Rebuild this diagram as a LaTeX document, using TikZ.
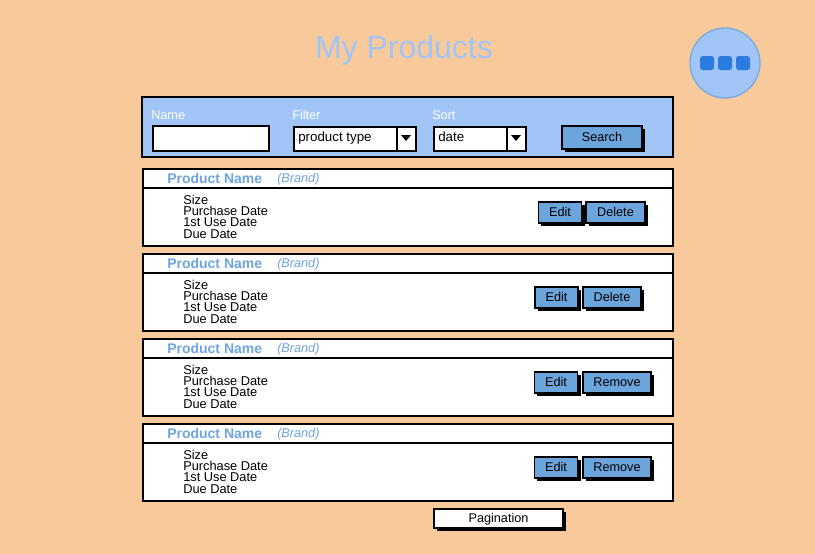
\documentclass[tikz,border=0pt]{standalone}
\usepackage{fontspec}
\setmainfont{Liberation Sans}
\usetikzlibrary{shadows}
\definecolor{paper}{HTML}{F8CA9B}
\definecolor{panel}{HTML}{A0C5F6}
\definecolor{btn}{HTML}{6CA4DC}
\definecolor{head}{HTML}{6FA5DE}
\definecolor{dots}{HTML}{2C7BE0}
\definecolor{ring}{HTML}{7AABDD}
\begin{document}
\begin{tikzpicture}[x=0.75pt,y=-0.75pt,
	field/.style={draw=black,line width=1.3pt,fill=white,inner sep=0},
	button/.style={draw=black,line width=1.2pt,fill=btn,inner sep=0,
	text height=7pt,text depth=1.6pt,
	drop shadow={opacity=1,fill=black,shadow xshift=2.2pt,shadow yshift=-2.2pt},
	font=\fontsize{9.5}{11}\selectfont},
	caption/.style={anchor=base west,inner sep=0,text=white,font=\fontsize{9.5}{11}\selectfont},
	entry/.style={anchor=base west,inner sep=0,font=\fontsize{10}{12}\selectfont}]
\fill[paper] (0,0) rectangle (815,554);
\node[text=panel,font=\fontsize{24}{28}\selectfont] (title) at (404,50) {My Products};
\node[circle,draw=ring,line width=1pt,fill=panel,minimum size=52.5pt] (menu) at (725,63) {};
\foreach \d in {707,725,743}
	\fill[dots,rounded corners=2pt] (\d-7,56) rectangle (\d+7,70);
% search bar
\draw[line width=1.8pt,fill=panel] (142,97) rectangle (673,157);
\node[caption] (namelbl) at (151,119) {Name};
\node[caption] (filterlbl) at (292,119) {Filter};
\node[caption] (sortlbl) at (432,119) {Sort};
\node[field,anchor=north west,minimum width=87pt,minimum height=18.75pt] (namefield) at (152,125) {};
\node[field,anchor=north west,minimum width=91.5pt,minimum height=18pt] (filterfield) at (293,126) {};
\draw[line width=1.3pt] (397,126) -- (397,150);
\fill (401,135) -- (411,135) -- (406,141) -- cycle;
\node[entry] (filtertxt) at (298,141.5) {product type};
\node[field,anchor=north west,minimum width=69pt,minimum height=18pt] (sortfield) at (433,126) {};
\draw[line width=1.3pt] (507,126) -- (507,150);
\fill (511,135) -- (521,135) -- (516,141) -- cycle;
\node[entry] (sorttxt) at (438,141.5) {date};
\node[button,minimum width=60pt,minimum height=17.25pt] (search) at (602,137.5) {Search};
% product cards
\foreach \i/\ex/\bx/\bw/\bt in {0/560/615.5/59/Delete,1/556.5/612/58/Delete,2/556/617/68/Remove,3/556/617/68/Remove}{
	\pgfmathsetmacro\y{85*\i}
	\draw[line width=1.5pt,fill=white] (143,169+\y) rectangle (673,246+\y);
	\draw[line width=1.5pt] (143,188+\y) -- (673,188+\y);
	\node[anchor=base west,inner sep=0,text=head,font=\bfseries\fontsize{10.5}{12}\selectfont] (name\i) at (167,183+\y) {Product Name};
	\node[anchor=base west,inner sep=0,text=head,font=\itshape\fontsize{9.5}{11}\selectfont] (brand\i) at (277,182+\y) {(Brand)};
	\node[anchor=north west,align=left,inner sep=0,font=\fontsize{9.6}{8.6}\selectfont] (info\i) at (183,194.5+\y) {Size\\Purchase Date\\1st Use Date\\Due Date};
	\node[button,minimum width=32.5pt,minimum height=15.75pt] (edit\i) at (\ex,212.5+\y) {Edit};
	\node[button,minimum width=\bw*0.75pt,minimum height=15.75pt] (act\i) at (\bx,212.5+\y) {\bt};
}
\node[button,fill=white,minimum width=96.75pt,minimum height=14.25pt] (pages) at (498.5,518.5) {Pagination};
\end{tikzpicture}
\end{document}
